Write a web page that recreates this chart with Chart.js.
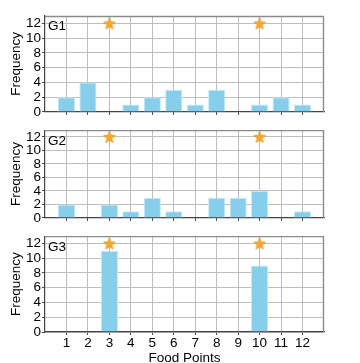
<!DOCTYPE html>
<html>
<head>
<meta charset="utf-8">
<script src="https://cdn.jsdelivr.net/npm/chart.js@4.4.1/dist/chart.umd.min.js"></script>
<style>
  html, body { margin: 0; padding: 0; background: #fff; }
  #wrap { position: relative; width: 360px; height: 363px; }
  .panel { position: absolute; left: 0; width: 360px; }
</style>
</head>
<body>
<div id="wrap">
  <div class="panel" style="top:0;height:121px"><canvas id="g1"></canvas></div>
  <div class="panel" style="top:121px;height:106px"><canvas id="g2"></canvas></div>
  <div class="panel" style="top:227px;height:136px"><canvas id="g3"></canvas></div>
</div>
<script>
const foodPoints = [1, 2, 3, 4, 5, 6, 7, 8, 9, 10, 11, 12]
const g1Counts = [2, 4, 0, 1, 2, 3, 1, 3, 0, 1, 2, 1]
const g2Counts = [2, 0, 2, 1, 3, 1, 0, 3, 3, 4, 0, 1]
const g3Counts = [0, 0, 11, 0, 0, 0, 0, 0, 0, 9, 0, 0]
const starFoods = [3, 10]
const starLevel = 12
const yTicks = [0, 2, 4, 6, 8, 10, 12]

const FONT = "'Liberation Sans', Arial, sans-serif"

// filled star used as point style
const makeStar = (size) => {
  const c = document.createElement('canvas')
  c.width = size; c.height = size
  const ctx = c.getContext('2d')
  const cx = size / 2, cy = size / 2 + 0.6
  const R = size / 2 - 0.8, r = R * 0.42
  ctx.beginPath()
  for (let i = 0; i < 10; i++) {
    const rad = i % 2 === 0 ? R : r
    const a = -Math.PI / 2 + i * Math.PI / 5
    ctx.lineTo(cx + rad * Math.cos(a), cy + rad * Math.sin(a))
  }
  ctx.closePath()
  ctx.fillStyle = '#f9a928'
  ctx.fill()
  ctx.strokeStyle = '#e8921a'
  ctx.lineWidth = 0.8
  ctx.stroke()
  return c
}
const star = makeStar(14)

const framePlugin = {
  id: 'frame',
  afterDraw: (chart, args, options) => {
    const {ctx, chartArea: a} = chart
    ctx.save()
    ctx.strokeStyle = '#8c8c8c'
    ctx.lineWidth = 1.4
    ctx.beginPath()
    ctx.moveTo(a.left, a.top + 0.5)
    ctx.lineTo(a.right - 0.5, a.top + 0.5)
    ctx.lineTo(a.right - 0.5, a.bottom)
    ctx.stroke()
    ctx.fillStyle = '#000'
    ctx.font = '13.5px ' + FONT
    ctx.textBaseline = 'top'
    ctx.fillText(options.label, a.left + 3, a.top + 4)
    ctx.restore()
  }
}

const makePanel = (id, label, counts, pad, xHeight, showX) => {
  new Chart(document.getElementById(id), {
    data: {
      datasets: [{
        type: 'bar',
        data: foodPoints.map((f, i) => ({x: f, y: counts[i]})),
        backgroundColor: '#87ceeb',
        borderColor: '#c4e6f4',
        borderWidth: 1,
        borderSkipped: 'start',
        barPercentage: 0.8,
        categoryPercentage: 1,
        order: 2
      }, {
        type: 'scatter',
        data: starFoods.map(f => ({x: f, y: starLevel})),
        pointStyle: star,
        order: 1
      }]
    },
    options: {
      responsive: true,
      maintainAspectRatio: false,
      animation: false,
      events: [],
      layout: { padding: { top: pad, bottom: 0, left: 0, right: 36 } },
      plugins: {
        legend: { display: false },
        tooltip: { enabled: false },
        frame: { label: label }
      },
      scales: {
        x: {
          type: 'linear',
          offset: false,
          min: 0, max: 13,
          afterBuildTicks: s => { s.ticks = foodPoints.map(v => ({value: v})) },
          afterFit: s => { s.height = xHeight },
          grid: { color: '#bebebe', tickColor: '#444', tickLength: 3, offset: false },
          border: { color: '#444', width: 1.2 },
          ticks: { display: showX, color: '#000', font: { family: FONT, size: 13.5 }, padding: 0, maxRotation: 0, autoSkip: false },
          title: { display: showX, text: 'Food Points', color: '#000', font: { family: FONT, size: 13.5 }, padding: { top: 0, bottom: -3 } }
        },
        y: {
          min: 0, max: 13,
          afterBuildTicks: s => { s.ticks = yTicks.map(v => ({value: v})) },
          afterFit: s => { s.width = 45 },
          grid: { color: '#bebebe', tickColor: '#444', tickLength: 3 },
          border: { color: '#444', width: 1.2 },
          ticks: { color: '#000', font: { family: FONT, size: 13.5 }, padding: 1, autoSkip: false },
          title: { display: true, text: 'Frequency', color: '#000', font: { family: FONT, size: 13.5 }, padding: { top: 8, bottom: 0 } }
        }
      }
    },
    plugins: [framePlugin]
  })
}

makePanel('g1', 'G1', g1Counts, 16, 3, false)
makePanel('g2', 'G2', g2Counts, 1, 3, false)
makePanel('g3', 'G3', g3Counts, 4, 31, true)
</script>
</body>
</html>
